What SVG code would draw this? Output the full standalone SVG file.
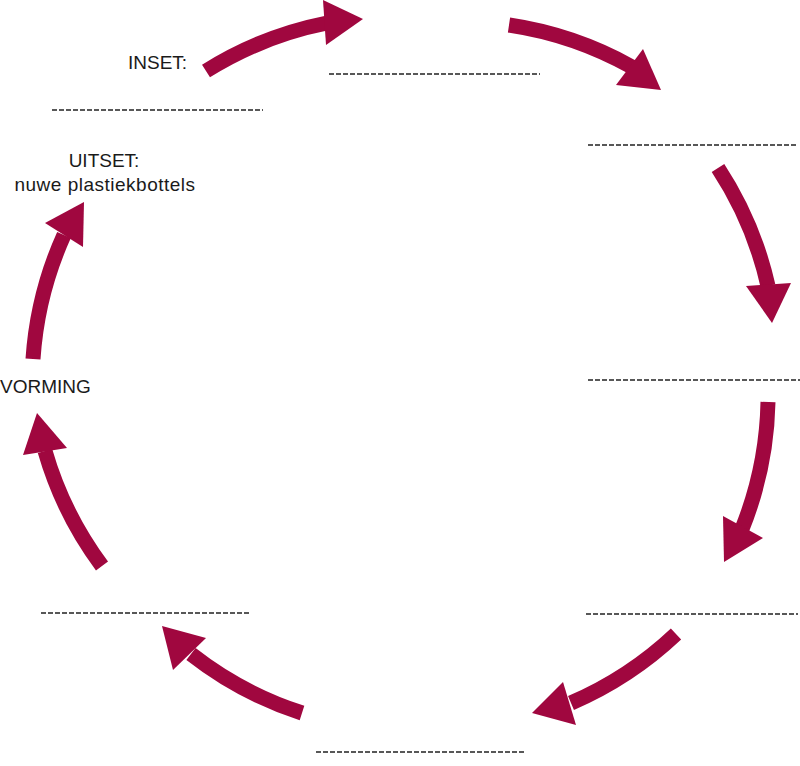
<svg xmlns="http://www.w3.org/2000/svg" width="800" height="766" viewBox="0 0 800 766">
<style>
.shaft{fill:none;stroke:#A0073F;stroke-width:15;stroke-linecap:butt}
.head{fill:#A0073F}
.blank{stroke:#222;stroke-width:1.6;stroke-dasharray:5 2}
.lbl{font-family:"Liberation Sans",Arial,sans-serif;font-size:19px;fill:#1a1a1a}
</style>
<rect width="800" height="766" fill="#fff"/>
<g id="connectors">
<path class="shaft" d="M206,71 A360,360 0 0 1 327,23"/>
<polygon class="head" points="323,0 363,19 326,45"/>
<path class="shaft" d="M509,25 A360,360 0 0 1 632,67"/>
<polygon class="head" points="643,49 661,90 616,85"/>
<path class="shaft" d="M718,168 A360,360 0 0 1 768,286"/>
<polygon class="head" points="746,286 791,283 772,323"/>
<path class="shaft" d="M768,402 A360,360 0 0 1 742,529"/>
<polygon class="head" points="723,516 763,538 724,562"/>
<path class="shaft" d="M676,634 A360,360 0 0 1 571,703"/>
<polygon class="head" points="563,682 532,713 576,725"/>
<path class="shaft" d="M302,713 A360,360 0 0 1 191,654"/>
<polygon class="head" points="206,638 162,626 173,670"/>
<path class="shaft" d="M102,566 A360,360 0 0 1 45,451"/>
<polygon class="head" points="23,455 37,413 67,448"/>
<path class="shaft" d="M33,359 A360,360 0 0 1 64,235"/>
<polygon class="head" points="45,223 84,202 83,247"/>
</g>
<g id="inset">
<text class="lbl" x="128" y="69">INSET:</text>
<line class="blank" x1="52" y1="110" x2="263" y2="110"/>
</g>
<g id="stap1"><line class="blank" x1="329" y1="74" x2="540" y2="74"/></g>
<g id="stap2"><line class="blank" x1="588" y1="145" x2="798" y2="145"/></g>
<g id="stap3"><line class="blank" x1="588" y1="380" x2="800" y2="380"/></g>
<g id="stap4"><line class="blank" x1="586" y1="614" x2="798" y2="614"/></g>
<g id="stap5"><line class="blank" x1="316" y1="752" x2="526" y2="752"/></g>
<g id="stap6"><line class="blank" x1="41" y1="613" x2="251" y2="613"/></g>
<g id="vorming"><text class="lbl" x="0" y="393">VORMING</text></g>
<g id="uitset">
<text class="lbl" x="104" y="167" text-anchor="middle">UITSET:</text>
<text class="lbl" x="105" y="191" text-anchor="middle" letter-spacing="0.5">nuwe plastiekbottels</text>
</g>
</svg>
